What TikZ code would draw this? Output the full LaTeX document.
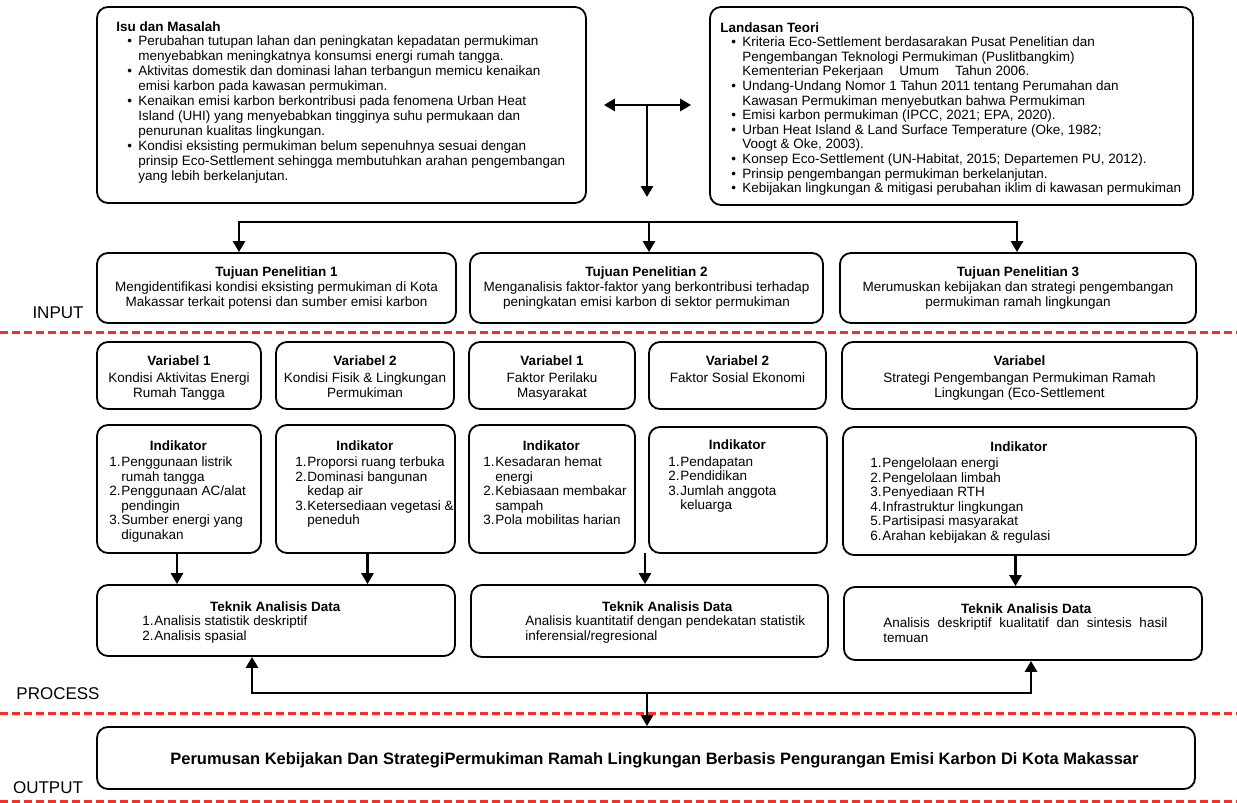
\documentclass[tikz,border=0pt]{standalone}
\usepackage{fontspec}
\setmainfont{Liberation Sans}
\usepackage{xcolor}
\usetikzlibrary{arrows.meta}
\usetikzlibrary{positioning}

\definecolor{sepred}{RGB}{250,45,45}

% bullets and numbered lines
\newcommand{\bult}{\hspace*{11pt}\makebox[11pt][l]{\textbullet}}
\newcommand{\bulc}{\hspace*{22pt}}
\newcommand{\numi}[1]{\makebox[12pt][l]{#1}}
\newcommand{\numc}{\hspace*{12pt}}

\begin{document}
\begin{tikzpicture}[x=1pt,y=-1pt,
  box/.style={draw,line width=1.8pt,rounded corners=11pt,inner sep=0pt},
  txt/.style={inner sep=0pt,align=left,font=\fontsize{13.5}{14.5}\selectfont},
  ctxt/.style={inner sep=0pt,align=center,font=\fontsize{13.5}{14.5}\selectfont},
  conn/.style={line width=2.8pt,-{Triangle[length=11pt,width=12pt]}},
  sepline/.style={sepred,line width=3pt,dash pattern=on 8pt off 4pt},
  stage/.style={inner sep=0pt,font=\fontsize{17}{17}\selectfont}]

\useasboundingbox (0,0) rectangle (1237,803);

%input: issues and theory
\node[box,minimum width=489pt,minimum height=196pt] (isu) at (341.5,105) {};
\node[txt,anchor=north west,font=\fontsize{13.5}{14.9}\selectfont] (isut) at ([xshift=20pt,yshift=-15pt]isu.north west)
  {{\bfseries Isu dan Masalah}\\
   \bult Perubahan tutupan lahan dan peningkatan kepadatan permukiman\\
   \bulc menyebabkan meningkatnya konsumsi energi rumah tangga.\\
   \bult Aktivitas domestik dan dominasi lahan terbangun memicu kenaikan\\
   \bulc emisi karbon pada kawasan permukiman.\\
   \bult Kenaikan emisi karbon berkontribusi pada fenomena Urban Heat\\
   \bulc Island (UHI) yang menyebabkan tingginya suhu permukaan dan\\
   \bulc penurunan kualitas lingkungan.\\
   \bult Kondisi eksisting permukiman belum sepenuhnya sesuai dengan\\
   \bulc prinsip Eco-Settlement sehingga membutuhkan arahan pengembangan\\
   \bulc yang lebih berkelanjutan.};

\node[box,minimum width=483pt,minimum height=198pt] (teori) at (951.5,106) {};
\node[txt,anchor=north west,font=\fontsize{13.5}{14.6}\selectfont] (teorit) at ([xshift=11pt,yshift=-16pt]teori.north west)
  {{\bfseries Landasan Teori}\\
   \bult Kriteria Eco-Settlement berdasarakan Pusat Penelitian dan\\
   \bulc Pengembangan Teknologi Permukiman (Puslitbangkim)\\
   \bulc Kementerian Pekerjaan\hspace*{16pt}Umum\hspace*{16pt}Tahun 2006.\\
   \bult Undang-Undang Nomor 1 Tahun 2011 tentang Perumahan dan\\
   \bulc Kawasan Permukiman menyebutkan bahwa Permukiman\\
   \bult Emisi karbon permukiman (IPCC, 2021; EPA, 2020).\\
   \bult Urban Heat Island \& Land Surface Temperature (Oke, 1982;\\
   \bulc Voogt \& Oke, 2003).\\
   \bult Konsep Eco-Settlement (UN-Habitat, 2015; Departemen PU, 2012).\\
   \bult Prinsip pengembangan permukiman berkelanjutan.\\
   \bult Kebijakan lingkungan \& mitigasi perubahan iklim di kawasan permukiman};

%research objectives
\node[box,ctxt,minimum width=359pt,minimum height=70pt,font=\fontsize{13.5}{15}\selectfont] (tuj1) at (276.5,288)
  {\textbf{Tujuan Penelitian 1}\\ Mengidentifikasi kondisi eksisting permukiman di Kota\\ Makassar terkait potensi dan sumber emisi karbon};
\node[box,ctxt,minimum width=353pt,minimum height=70pt,font=\fontsize{13.5}{15}\selectfont] (tuj2) at (646.5,288)
  {\textbf{Tujuan Penelitian 2}\\ Menganalisis faktor-faktor yang berkontribusi terhadap\\ peningkatan emisi karbon di sektor permukiman};
\node[box,ctxt,minimum width=356pt,minimum height=70pt,font=\fontsize{13.5}{15}\selectfont] (tuj3) at (1018,288)
  {\textbf{Tujuan Penelitian 3}\\ Merumuskan kebijakan dan strategi pengembangan\\ permukiman ramah lingkungan};

%arrows between the top boxes
\coordinate (tm) at (647,105);
\coordinate (tb) at (647,197);
\draw[line width=2.8pt,{Triangle[length=11pt,width=12pt]}-{Triangle[length=11pt,width=12pt]}] ([xshift=17pt]isu.east) -- ([xshift=-18pt]teori.west |- isu.east);
\draw[conn] (tm) -- (tb);

\coordinate (b1) at (239,222);
\coordinate (b2) at (649,222);
\coordinate (b3) at (1017,222);
\draw[conn] (b2) -- (b1) -- (b1 |- tuj1.north);
\draw[conn] (b2) -- (b3) -- (b3 |- tuj3.north);
\draw[conn] (b2) -- (b2 |- tuj2.north);

%variables
\node[box,minimum width=164pt,minimum height=67pt] (var1) at (179,375.5) {};
\node[box,minimum width=178pt,minimum height=67pt] (var2) at (365,375.5) {};
\node[box,minimum width=166pt,minimum height=67pt] (var3) at (552,375.5) {};
\node[box,minimum width=177pt,minimum height=67pt] (var4) at (737.5,375.5) {};
\node[box,minimum width=355pt,minimum height=67pt] (var5) at (1019.5,375.5) {};
\node[ctxt,anchor=north] (var1t) at ([yshift=-14pt]var1.north) {\textbf{Variabel 1}\\[3pt] Kondisi Aktivitas Energi\\ Rumah Tangga};
\node[ctxt,anchor=north] (var2t) at ([yshift=-14pt]var2.north) {\textbf{Variabel 2}\\[3pt] Kondisi Fisik \& Lingkungan\\ Permukiman};
\node[ctxt,anchor=north] (var3t) at ([yshift=-14pt]var3.north) {\textbf{Variabel 1}\\[3pt] Faktor Perilaku\\ Masyarakat};
\node[ctxt,anchor=north] (var4t) at ([yshift=-14pt]var4.north) {\textbf{Variabel 2}\\[3pt] Faktor Sosial Ekonomi};
\node[ctxt,anchor=north] (var5t) at ([yshift=-14pt]var5.north) {\textbf{Variabel}\\[3pt] Strategi Pengembangan Permukiman Ramah\\ Lingkungan (Eco-Settlement};

%indicators
\node[box,minimum width=164pt,minimum height=128pt] (ind1) at (179,489) {};
\node[box,minimum width=179pt,minimum height=128pt] (ind2) at (365.5,489) {};
\node[box,minimum width=166pt,minimum height=128pt] (ind3) at (552,489) {};
\node[box,minimum width=178pt,minimum height=126pt] (ind4) at (738,490) {};
\node[box,minimum width=353pt,minimum height=128pt] (ind5) at (1019.5,491) {};
\node[txt,anchor=north west] (ind1t) at ([xshift=13pt,yshift=-16pt]ind1.north west)
  {\makebox[138pt]{\bfseries Indikator}\\[2pt]
   \numi{1.}Penggunaan listrik\\ \numc rumah tangga\\
   \numi{2.}Penggunaan AC/alat\\ \numc pendingin\\
   \numi{3.}Sumber energi yang\\ \numc digunakan};
\node[txt,anchor=north west] (ind2t) at ([xshift=20pt,yshift=-16pt]ind2.north west)
  {\makebox[139pt]{\bfseries Indikator}\\[2pt]
   \numi{1.}Proporsi ruang terbuka\\
   \numi{2.}Dominasi bangunan\\ \numc kedap air\\
   \numi{3.}Ketersediaan vegetasi \&\\ \numc peneduh};
\node[txt,anchor=north west] (ind3t) at ([xshift=15pt,yshift=-16pt]ind3.north west)
  {\makebox[136pt]{\bfseries Indikator}\\[2pt]
   \numi{1.}Kesadaran hemat\\ \numc energi\\
   \numi{2.}Kebiasaan membakar\\ \numc sampah\\
   \numi{3.}Pola mobilitas harian};
\node[txt,anchor=north west] (ind4t) at ([xshift=20pt,yshift=-13.5pt]ind4.north west)
  {\makebox[138pt]{\bfseries Indikator}\\[2pt]
   \numi{1.}Pendapatan\\
   \numi{2.}Pendidikan\\
   \numi{3.}Jumlah anggota\\ \numc keluarga};
\node[txt,anchor=north west] (ind5t) at ([xshift=28pt,yshift=-15pt]ind5.north west)
  {\makebox[297pt]{\bfseries Indikator}\\[2pt]
   \numi{1.}Pengelolaan energi\\
   \numi{2.}Pengelolaan limbah\\
   \numi{3.}Penyediaan RTH\\
   \numi{4.}Infrastruktur lingkungan\\
   \numi{5.}Partisipasi masyarakat\\
   \numi{6.}Arahan kebijakan \& regulasi};

%data analysis
\node[box,minimum width=358pt,minimum height=71pt] (tek1) at (276,620.5) {};
\node[box,minimum width=357pt,minimum height=72pt] (tek2) at (649.5,621) {};
\node[box,minimum width=358pt,minimum height=73pt] (tek3) at (1023,623.5) {};
\node[txt,anchor=north west] (tek1t) at ([xshift=46pt,yshift=-17pt]tek1.north west)
  {\makebox[266pt]{\bfseries Teknik Analisis Data}\\
   \numi{1.}Analisis statistik deskriptif\\
   \numi{2.}Analisis spasial};
\node[txt,anchor=north west] (tek2t) at ([xshift=55pt,yshift=-17pt]tek2.north west)
  {\makebox[284pt]{\bfseries Teknik Analisis Data}\\
   Analisis kuantitatif dengan pendekatan statistik\\
   inferensial/regresional};
\node[txt,anchor=north west] (tek3t) at ([xshift=40pt,yshift=-17pt]tek3.north west)
  {\makebox[286pt]{\bfseries Teknik Analisis Data}\\
   \makebox[284pt][s]{Analisis deskriptif kualitatif dan sintesis hasil}\\
   temuan};

\coordinate (m34) at (645,553);
\draw[conn] ([xshift=-2pt]ind1.south) -- ([xshift=-2pt]ind1.south |- tek1.north);
\draw[conn] ([xshift=2pt]ind2.south) -- ([xshift=2pt]ind2.south |- tek1.north);
\draw[conn] (m34) -- (m34 |- tek2.north);
\draw[conn] ([xshift=-4pt]ind5.south) -- ([xshift=-4pt]ind5.south |- tek3.north);

%output
\node[box,minimum width=1098pt,minimum height=62pt] (out) at (646,758) {};
\node[inner sep=0pt,font=\fontsize{16.5}{16.5}\selectfont\bfseries] (outt) at (654.5,760)
  {Perumusan Kebijakan Dan StrategiPermukiman Ramah Lingkungan Berbasis Pengurangan Emisi Karbon Di Kota Makassar};

\coordinate (c1) at (252,693);
\coordinate (c2) at (647,693);
\coordinate (c3) at (1031,693);
\draw[conn] (c2) -- (c1) -- (c1 |- tek1.south);
\draw[conn] (c2) -- (c3) -- (c3 |- tek3.south);
\draw[conn] (c2) -- (c2 |- out.north);

%stage separators
\draw[sepline] (0,332) -- (1237,332);
\draw[sepline] (0,713) -- (1237,713);
\draw[sepline] (0,801) -- (1237,801);
\node[stage] (linput) at (58,313) {INPUT};
\node[stage] (lproc) at (58,694) {PROCESS};
\node[stage] (loutput) at (48,788) {OUTPUT};

\end{tikzpicture}
\end{document}
